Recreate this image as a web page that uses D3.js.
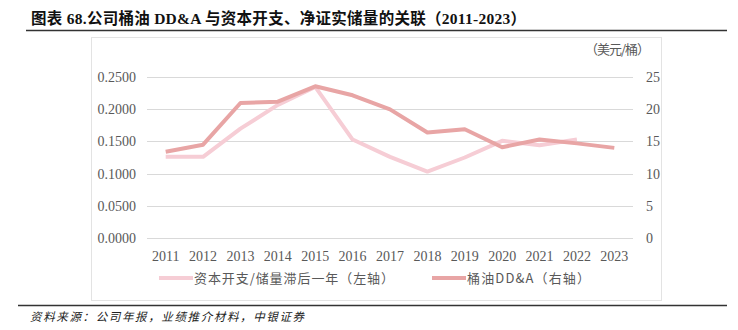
<!DOCTYPE html>
<html><head><meta charset="utf-8">
<script src="https://cdn.jsdelivr.net/npm/d3@7"></script>
<style>body{margin:0;background:#fff}svg{display:block}</style>
</head><body>
<script>
const years = ["2011","2012","2013","2014","2015","2016","2017","2018","2019","2020","2021","2022","2023"];
const capexPerReserve = [0.126,0.126,0.170,0.207,0.235,0.153,0.126,0.103,0.125,0.151,0.144,0.153,null];
const ddaPerBarrel = [13.4,14.5,21.0,21.2,23.6,22.2,20.0,16.4,16.9,14.1,15.3,14.7,14.0];
const leftTicks = [0,0.05,0.10,0.15,0.20,0.25];
const rightTicks = [0,5,10,15,20,25];
const seriesNames = ["资本开支/储量滞后一年（左轴）","桶油DD&A（右轴）"];
const titleText = "图表 68.公司桶油 DD&A 与资本开支、净证实储量的关联（2011-2023）";
const unitText = "（美元/桶）";
const sourceText = "资料来源：公司年报，业绩推介材料，中银证券";

const W=738,H=330;
const svg=d3.select("body").append("svg").attr("width",W).attr("height",H);
const serif="'Liberation Serif','Noto Sans CJK SC',serif";
const cjk="'Noto Sans CJK SC','Liberation Serif',sans-serif";

svg.append("text").attr("x",31).attr("y",24).attr("font-family",serif).attr("font-weight","bold")
  .attr("font-size",15.5).attr("fill","#111").attr("textLength",495).attr("lengthAdjust","spacing").text(titleText);
svg.append("line").attr("x1",26).attr("x2",727).attr("y1",30.5).attr("y2",30.5).attr("stroke","#333").attr("stroke-width",1.3);
svg.append("rect").attr("x",91.5).attr("y",37.5).attr("width",570).attr("height",263).attr("fill","none").attr("stroke","#e3e3e3");
svg.append("line").attr("x1",18).attr("x2",727).attr("y1",305.5).attr("y2",305.5).attr("stroke","#333").attr("stroke-width",1.3);
svg.append("text").attr("x",30).attr("y",321).attr("font-family",cjk).attr("font-size",11.5)
  .attr("font-style","italic").attr("fill","#222").attr("textLength",274).attr("lengthAdjust","spacing").text(sourceText);

const x=d3.scaleBand().domain(years).range([147,633]);
const yL=d3.scaleLinear().domain([0,0.25]).range([237.7,77.3]);
const yR=d3.scaleLinear().domain([0,25]).range([237.7,77.3]);

const grid=svg.append("g");
grid.selectAll("line").data(leftTicks).join("line")
  .attr("x1",147).attr("x2",633).attr("y1",d=>Math.round(yL(d))+0.5).attr("y2",d=>Math.round(yL(d))+0.5)
  .attr("stroke","#d9d9d9").attr("stroke-width",1);

const gl=svg.append("g").attr("transform","translate(136,0)")
  .call(d3.axisLeft(yL).tickValues(leftTicks).tickFormat(d3.format(".4f")).tickSize(0).tickPadding(0));
const gr=svg.append("g").attr("transform","translate(646,0)")
  .call(d3.axisRight(yR).tickValues(rightTicks).tickSize(0).tickPadding(0));
const gx=svg.append("g").attr("transform","translate(0,251)")
  .call(d3.axisBottom(x).tickSize(0).tickPadding(0));
[gl,gr,gx].forEach(g=>{g.select(".domain").remove();
  g.selectAll("text").attr("font-family",serif).attr("font-size",14).attr("fill","#595959");});
gx.selectAll("text").attr("dy","0.71em");

const cx=d=>x(d)+x.bandwidth()/2;
const pink="#f6cdd5", red="#e8a5a5";
const lineL=d3.line().defined(d=>d[1]!=null).x(d=>cx(d[0])).y(d=>yL(d[1]));
const lineR=d3.line().x(d=>cx(d[0])).y(d=>yR(d[1]));
svg.append("path").datum(years.map((y,i)=>[y,capexPerReserve[i]])).attr("d",lineL)
  .attr("fill","none").attr("stroke",pink).attr("stroke-width",4).attr("stroke-linejoin","round");
svg.append("path").datum(years.map((y,i)=>[y,ddaPerBarrel[i]])).attr("d",lineR)
  .attr("fill","none").attr("stroke",red).attr("stroke-width",4).attr("stroke-linejoin","round");

svg.append("text").attr("x",585).attr("y",54).attr("font-family",cjk)
  .attr("font-size",13).attr("fill","#595959").attr("textLength",65).attr("lengthAdjust","spacing").text(unitText);

const leg=[{n:seriesNames[0],c:pink,x:159,w:200},{n:seriesNames[1],c:red,x:432,w:123}];
leg.forEach(l=>{
  svg.append("line").attr("x1",l.x).attr("x2",l.x+34).attr("y1",278).attr("y2",278)
    .attr("stroke",l.c).attr("stroke-width",4);
  svg.append("text").attr("x",l.x+35).attr("y",282.5).attr("font-family",cjk)
    .attr("font-size",13).attr("fill","#595959").attr("textLength",l.w).attr("lengthAdjust","spacing").text(l.n);
});
</script>
</body></html>
